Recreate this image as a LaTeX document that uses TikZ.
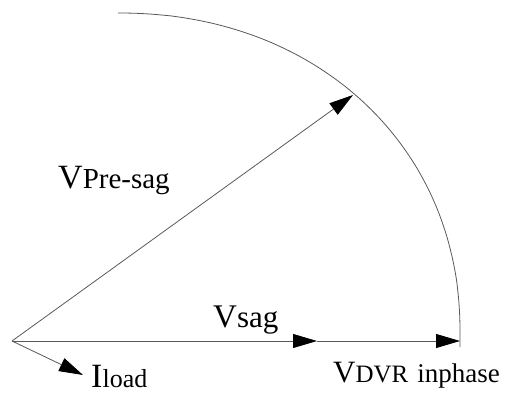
\documentclass[tikz,border=0pt]{standalone}
\usepackage{fontspec}
\setmainfont{Liberation Serif}
\usetikzlibrary{arrows.meta}
\begin{document}
\begin{tikzpicture}[x=1pt,y=1pt,
  vline/.style={draw=black!65,line width=0.8pt},
  vec/.style={vline,-{Triangle[length=24pt,width=14pt,fill=black,color=black]}},
  lbl/.style={inner sep=0pt,anchor=base west,text=black}]
\useasboundingbox (0,0) rectangle (508,394);
\coordinate (O) at (12,53);
\coordinate (S) at (317,53);
\coordinate (D) at (460,53);
\coordinate (P) at (353,299);
\coordinate (L) at (83,19);
\coordinate (E) at (460,47);
% arc
\draw[vline] plot[domain=89.99:0.01,samples=80,smooth,variable=\t]
  ({118+342*pow(cos(\t),0.952)},{62+319*pow(sin(\t),0.952)}) -- (E);
% vectors
\draw[vec] (O) -- (S);
\draw[vec] (S) -- (D);
\draw[vec] (O) -- (P);
\draw[vec] (O) -- (L);
% labels
\node[lbl] (lpre) at (58,206) {\fontsize{34}{34}\selectfont V\fontsize{29}{29}\selectfont Pre-sag};
\node[lbl] (lsag) at (213,67) {\fontsize{33}{33}\selectfont V\fontsize{31}{31}\selectfont sag};
\node[lbl] (ldvr) at (333,12) {\fontsize{31}{31}\selectfont V\fontsize{25}{25}\selectfont DVR\hspace{9pt}\fontsize{27}{27}\selectfont inphase};
\node[lbl] (lload) at (91,7) {\fontsize{34}{34}\selectfont I\fontsize{26}{26}\selectfont load};
\end{tikzpicture}
\end{document}
